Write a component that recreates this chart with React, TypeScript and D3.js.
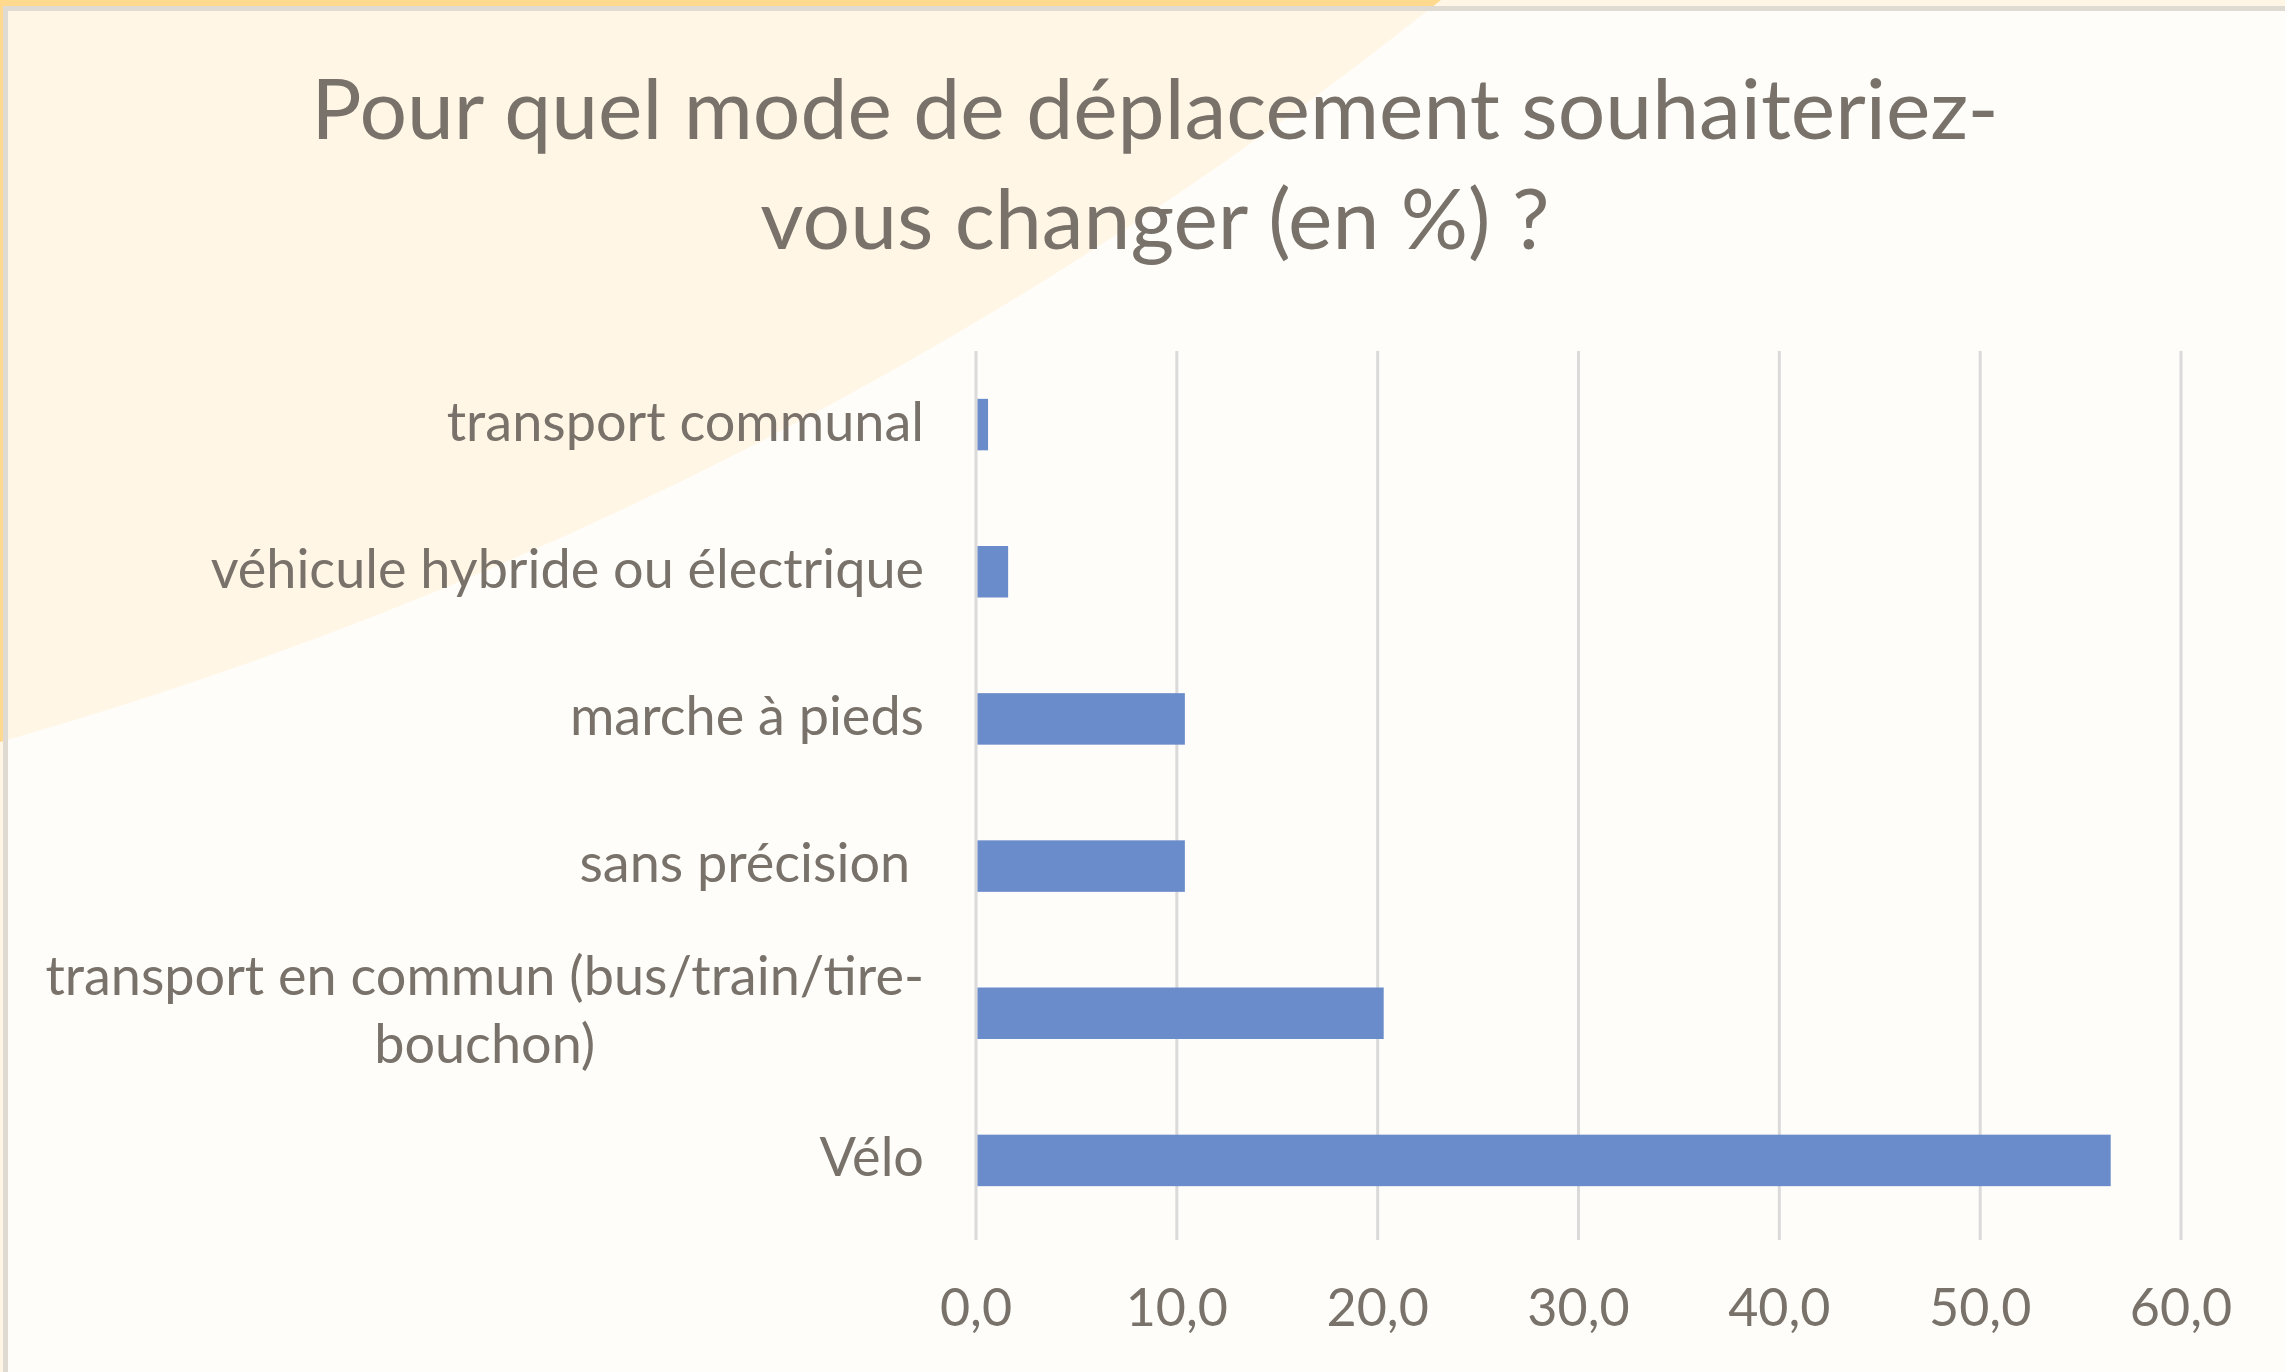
import { useEffect, useRef } from "react";
import * as d3 from "d3";

// Chart data
const categories = [
  "transport communal",
  "véhicule hybride ou électrique",
  "marche à pieds",
  "sans précision ",
  "transport en commun (bus/train/tire-bouchon)",
  "Vélo",
];
const values = [0.6, 1.6, 10.4, 10.4, 20.3, 56.5];
const tickValues = [0, 10, 20, 30, 40, 50, 60];
const titleLines = ["Pour quel mode de déplacement souhaiteriez-", "vous changer (en %) ?"];

const W = 2285;
const H = 1372;
const textColor = "#78726a";

const App = () => {
  const svgRef = useRef<SVGSVGElement>(null);

  useEffect(() => {
    const svg = d3.select(svgRef.current);
    svg.selectAll("*").remove();
    svg.attr("width", W).attr("height", H);

    const margin = { top: 351, right: 104, bottom: 138, left: 976 };
    const plotBottom = H - margin.bottom;

    // Background: outer strip, decorative arc, inner panel
    const arcShape = "M0,0 L1441,0 A4095,4095 0 0,1 0,742 Z";
    svg.append("rect").attr("width", W).attr("height", H).attr("fill", "#fff6e6");
    svg.append("path").attr("d", arcShape).attr("fill", "#ffd98e");
    svg.append("rect").attr("x", 8).attr("y", 11).attr("width", W).attr("height", H).attr("fill", "#fffdf9");
    svg
      .append("clipPath")
      .attr("id", "inner")
      .append("rect")
      .attr("x", 8)
      .attr("y", 11)
      .attr("width", W)
      .attr("height", H);
    svg
      .append("path")
      .attr("d", arcShape)
      .attr("fill", "#fff6e6")
      .attr("clip-path", "url(#inner)");
    svg.append("rect").attr("x", 3).attr("y", 6).attr("width", W).attr("height", 5).attr("fill", "#dfdbd2");
    svg.append("rect").attr("x", 3).attr("y", 6).attr("width", 5).attr("height", H).attr("fill", "#dfdbd2");

    // Scales
    const x = d3.scaleLinear().domain([0, 60]).range([margin.left, W - margin.right]);
    const y = d3
      .scaleBand()
      .domain(categories)
      .range([margin.top, plotBottom])
      .paddingInner(0.65)
      .paddingOuter(0.325);

    // Title
    const title = svg
      .append("text")
      .attr("x", 1155)
      .attr("y", 139)
      .attr("text-anchor", "middle")
      .attr("font-family", "Lato, 'Open Sans', sans-serif")
      .attr("font-size", 84)
      .attr("fill", textColor);
    titleLines.forEach((line, i) => {
      title.append("tspan").attr("x", 1155).attr("dy", i === 0 ? 0 : 110).text(line);
    });

    // Vertical gridlines
    svg
      .append("g")
      .selectAll("line")
      .data(tickValues)
      .enter()
      .append("line")
      .attr("x1", (d) => x(d))
      .attr("x2", (d) => x(d))
      .attr("y1", margin.top)
      .attr("y2", plotBottom + 6)
      .attr("stroke", "#dadada")
      .attr("stroke-width", 3);

    // Bars
    svg
      .append("g")
      .selectAll("rect")
      .data(categories.map((c, i) => [c, values[i]] as [string, number]))
      .enter()
      .append("rect")
      .attr("x", x(0) + 1.5)
      .attr("y", ([c]) => y(c)!)
      .attr("width", ([, v]) => x(v) - x(0) - 1.5)
      .attr("height", y.bandwidth())
      .attr("fill", "#6b8cca");

    // X tick labels
    const fmt = (d: number) => d3.format(".1f")(d).replace(".", ",");
    svg
      .append("g")
      .selectAll("text")
      .data(tickValues)
      .enter()
      .append("text")
      .attr("x", (d) => x(d))
      .attr("y", 1326)
      .attr("text-anchor", "middle")
      .attr("font-family", "Lato, 'Open Sans', sans-serif")
      .attr("font-size", 52)
      .attr("fill", textColor)
      .text(fmt);

    // Category labels (wrapped, lines centred, block right-aligned)
    const labelRight = x(0) - 52;
    const lineH = 68;
    const maxW = 960;
    const labels = svg
      .append("g")
      .attr("font-family", "Lato, 'Open Sans', sans-serif")
      .attr("font-size", 54)
      .attr("fill", textColor);

    categories.forEach((cat) => {
      const cy = y(cat)! + y.bandwidth() / 2;
      const probe = labels.append("text").style("white-space", "pre");
      const measure = (s: string) => {
        probe.text(s);
        return (probe.node() as SVGTextElement).getComputedTextLength();
      };
      // break at spaces and after hyphens
      const pieces = cat.match(/[^\s-]+-?|\s+|-/g) || [cat];
      const lines: string[] = [];
      let cur = "";
      pieces.forEach((p) => {
        const trial = cur + p;
        if (cur.trim() && measure(trial.trimEnd()) > maxW && p.trim()) {
          lines.push(cur.trimEnd());
          cur = p;
        } else {
          cur = trial;
        }
      });
      lines.push(lines.length ? cur.trim() : cur);
      const widths = lines.map(measure);
      probe.remove();
      const blockW = Math.max(...widths);
      const cx = labelRight - blockW / 2;
      const y0 = cy + 16 - ((lines.length - 1) * lineH) / 2;
      lines.forEach((ln, i) => {
        labels
          .append("text")
          .style("white-space", "pre")
          .attr("x", cx)
          .attr("y", y0 + i * lineH)
          .attr("text-anchor", "middle")
          .text(ln);
      });
    });
  }, []);

  return (
    <svg
      ref={svgRef}
      style={{ position: "absolute", left: 0, top: 0, display: "block" }}
    ></svg>
  );
};

export default App;
